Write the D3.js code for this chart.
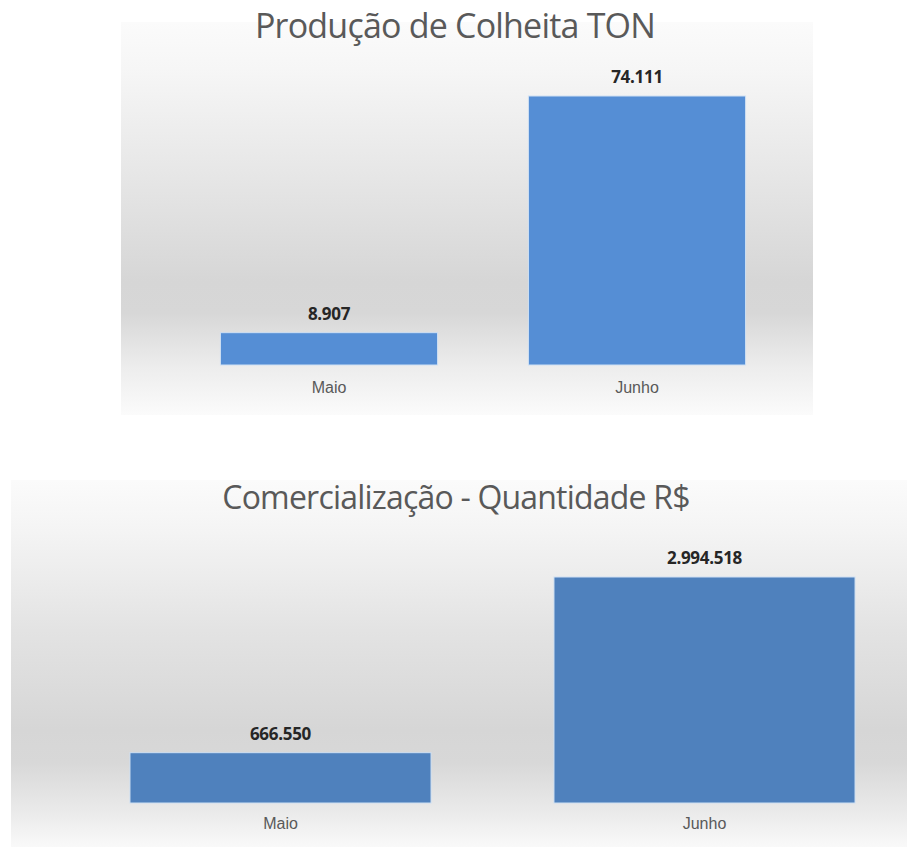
<!DOCTYPE html>
<html>
<head>
<meta charset="utf-8">
<script src="https://cdn.jsdelivr.net/npm/d3@7"></script>
<style>
  body { margin: 0; background: #ffffff; }
  svg { display: block; }
</style>
</head>
<body>
<script>
// data
var months = ["Maio", "Junho"];
var colheitaTon = [8907, 74111];
var comercializacaoRS = [666550, 2994518];
var titles = ["Produção de Colheita TON", "Comercialização - Quantidade R$"];

var br = d3.formatLocale({decimal: ",", thousands: ".", grouping: [3], currency: ["R$", ""]});
var fmt = br.format(",d");

var svg = d3.select("body")
  .append("svg")
    .attr("width", 907)
    .attr("height", 848);

var defs = svg.append("defs");

// chart settings (layout only)
var charts = [
  {
    values: colheitaTon, title: titles[0], color: "#558ed5", grad: "g1",
    panel: {x: 121, y: 22, w: 692, h: 393},
    stops: [[0, "#fbfbfb"], [0.12, "#f6f6f6"], [0.38, "#e7e7e7"], [0.66, "#d6d6d6"], [0.74, "#d7d7d7"], [0.88, "#ededed"], [1, "#fbfbfb"]],
    xRange: [175, 791], padding: 0.295,
    yBottom: 365, yTop: 96,
    titleX: 455, titleY: 38, titleSize: 34, labelY: 396
  },
  {
    values: comercializacaoRS, title: titles[1], color: "#4f81bd", grad: "g2",
    panel: {x: 11, y: 480, w: 896, h: 367},
    stops: [[0, "#fbfbfb"], [0.14, "#f4f4f4"], [0.41, "#e3e3e3"], [0.68, "#d6d6d6"], [0.77, "#d8d8d8"], [0.91, "#ebebeb"], [1, "#f9f9f9"]],
    xRange: [68.5, 916.5], padding: 0.29,
    yBottom: 803, yTop: 577,
    titleX: 456, titleY: 509, titleSize: 32, labelY: 832
  }
];

charts.forEach(function(c) {
  var lg = defs.append("linearGradient")
      .attr("id", c.grad)
      .attr("x1", 0).attr("y1", 0).attr("x2", 0).attr("y2", 1);
  lg.selectAll("stop")
    .data(c.stops)
    .enter()
    .append("stop")
      .attr("offset", function(d) { return d[0]; })
      .attr("stop-color", function(d) { return d[1]; });

  var g = svg.append("g");

  g.append("rect")
      .attr("x", c.panel.x)
      .attr("y", c.panel.y)
      .attr("width", c.panel.w)
      .attr("height", c.panel.h)
      .style("fill", "url(#" + c.grad + ")");

  var x = d3.scaleBand()
      .domain(months)
      .range(c.xRange)
      .paddingInner(c.padding)
      .paddingOuter(c.padding / 2);

  var y = d3.scaleLinear()
      .domain([0, d3.max(c.values)])
      .range([c.yBottom, c.yTop]);

  // bars
  g.selectAll(".bar")
    .data(c.values)
    .enter()
    .append("rect")
      .attr("class", "bar")
      .attr("x", function(d, i) { return x(months[i]); })
      .attr("y", function(d) { return y(d); })
      .attr("width", x.bandwidth())
      .attr("height", function(d) { return y(0) - y(d); })
      .style("fill", c.color)
      .style("stroke", "#cfe0f3")
      .style("stroke-width", 1);

  // value labels
  g.selectAll(".val")
    .data(c.values)
    .enter()
    .append("text")
      .attr("class", "val")
      .attr("x", function(d, i) { return x(months[i]) + x.bandwidth() / 2; })
      .attr("y", function(d) { return y(d) - 13; })
      .attr("text-anchor", "middle")
      .style("font-family", "'Open Sans', sans-serif")
      .style("font-weight", "bold")
      .style("font-size", "17px")
      .style("letter-spacing", "-0.3px")
      .style("fill", "#262626")
      .text(function(d) { return fmt(d); });

  // category axis
  var ax = g.append("g")
      .attr("transform", "translate(0," + (c.labelY - 14) + ")")
      .call(d3.axisBottom(x).tickSize(0).tickPadding(0));
  ax.select(".domain").remove();
  ax.selectAll("text")
      .attr("dy", "0.71em")
      .style("font-family", "'Liberation Sans', Arial, sans-serif")
      .style("font-size", "16px")
      .style("fill", "#595959");

  // title
  g.append("text")
      .attr("x", c.titleX)
      .attr("y", c.titleY)
      .attr("text-anchor", "middle")
      .style("font-family", "'Open Sans', sans-serif")
      .style("font-size", c.titleSize + "px")
      .style("letter-spacing", "-0.8px")
      .style("fill", "#595959")
      .text(c.title);
});
</script>
</body>
</html>
